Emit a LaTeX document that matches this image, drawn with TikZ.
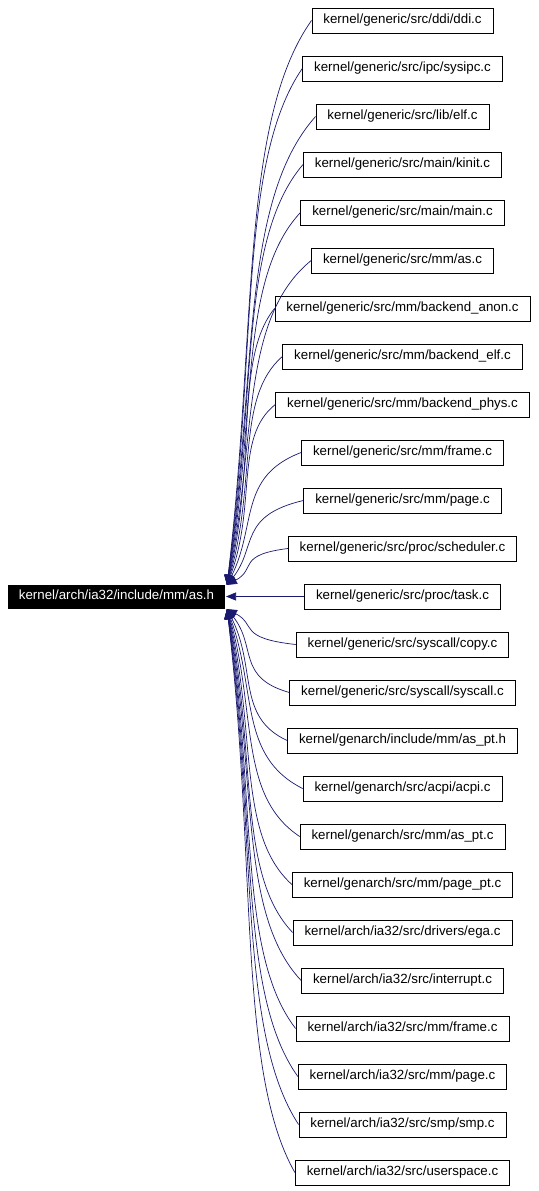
\documentclass[tikz,border=0pt]{standalone}
\usepackage{fontspec}
\setmainfont{Liberation Sans}
\usetikzlibrary{arrows.meta,calc}
\definecolor{edgeblue}{RGB}{25,25,112}
\begin{document}
\begin{tikzpicture}[x=1pt,y=-1pt,
  filebox/.style={draw=black,line width=0.8pt,fill=white,minimum height=25pt,inner xsep=11.5pt,inner ysep=0pt,font=\fontsize{13.3}{15}\selectfont,text height=9.6pt,text depth=2.8pt},
  rootbox/.style={fill=black,text=white,minimum height=24pt,minimum width=217pt,inner sep=0pt,font=\fontsize{13.3}{15}\selectfont,text height=9.6pt,text depth=2.8pt},
  edge/.style={draw=edgeblue,line width=0.7pt,-{Triangle[length=10pt,width=8pt]}}]
\useasboundingbox (0,0) rectangle (538,1191);
\node[rootbox] (root) at (116.5,596.5) {kernel/arch/ia32/include/mm/as.h};
\coordinate (tipU) at (227,585);
\coordinate (tipM) at (226,596.5);
\coordinate (tipL) at (227,609);
\foreach \name [count=\i from 0] in {
  kernel/generic/src/ddi/ddi.c,
  kernel/generic/src/ipc/sysipc.c,
  kernel/generic/src/lib/elf.c,
  kernel/generic/src/main/kinit.c,
  kernel/generic/src/main/main.c,
  kernel/generic/src/mm/as.c,
  kernel/generic/src/mm/backend\_anon.c,
  kernel/generic/src/mm/backend\_elf.c,
  kernel/generic/src/mm/backend\_phys.c,
  kernel/generic/src/mm/frame.c,
  kernel/generic/src/mm/page.c,
  kernel/generic/src/proc/scheduler.c,
  kernel/generic/src/proc/task.c,
  kernel/generic/src/syscall/copy.c,
  kernel/generic/src/syscall/syscall.c,
  kernel/genarch/include/mm/as\_pt.h,
  kernel/genarch/src/acpi/acpi.c,
  kernel/genarch/src/mm/as\_pt.c,
  kernel/genarch/src/mm/page\_pt.c,
  kernel/arch/ia32/src/drivers/ega.c,
  kernel/arch/ia32/src/interrupt.c,
  kernel/arch/ia32/src/mm/frame.c,
  kernel/arch/ia32/src/mm/page.c,
  kernel/arch/ia32/src/smp/smp.c,
  kernel/arch/ia32/src/userspace.c} {
  \node[filebox] (f\i) at (402.5,{20.5+48*\i}) {\name};
}
\foreach \i in {0,...,11} {
  \draw[edge] let \p1=(f\i.west), \p2=(tipU), \n1={\y1-\y2}, \n2={\x1-\x2} in
    (\p1) .. controls ({\x1-0.85*\n2*1pt},{\y1-0.18*\n1*1pt}) and ({\x2+30pt},{\y2+0.45*\n1*1pt}) .. (\p2);
}
\draw[edge] (f12.west) -- (tipM);
\foreach \i in {13,...,24} {
  \draw[edge] let \p1=(f\i.west), \p2=(tipL), \n1={\y2-\y1}, \n2={\x1-\x2} in
    (\p1) .. controls ({\x1-0.85*\n2*1pt},{\y1+0.18*\n1*1pt}) and ({\x2+30pt},{\y2-0.45*\n1*1pt}) .. (\p2);
}
\end{tikzpicture}
\end{document}
